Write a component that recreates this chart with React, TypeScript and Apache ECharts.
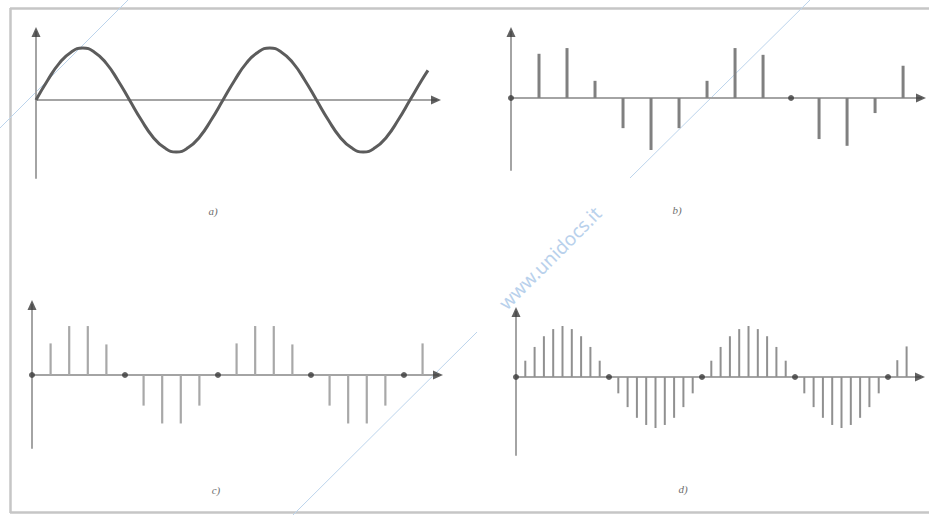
import React, { useEffect, useRef } from "react";
import * as echarts from "echarts";

// a) continuous signal, read every 1/16 of a period (x in periods, y in amplitude units)
const phaseA = [
  0, 0.0625, 0.125, 0.1875, 0.25, 0.3125, 0.375, 0.4375, 0.5, 0.5625, 0.625, 0.6875,
  0.75, 0.8125, 0.875, 0.9375, 1, 1.0625, 1.125, 1.1875, 1.25, 1.3125, 1.375, 1.4375,
  1.5, 1.5625, 1.625, 1.6875, 1.75, 1.8125, 1.875, 1.9375, 2, 2.0625, 2.096,
];
const waveA = [
  0, 0.38, 0.71, 0.92, 1, 0.92, 0.71, 0.38, 0, -0.38, -0.71, -0.92,
  -1, -0.92, -0.71, -0.38, 0, 0.38, 0.71, 0.92, 1, 0.92, 0.71, 0.38,
  0, -0.38, -0.71, -0.92, -1, -0.92, -0.71, -0.38, 0, 0.38, 0.57,
];

// b) coarse sampling (one value per sample index)
const samplesB = [0, 0.85, 0.96, 0.33, -0.58, -1.0, -0.58, 0.33, 0.96, 0.83, 0, -0.79, -0.92, -0.29, 0.62];

// c) ten samples per period
const samplesC = [
  0, 0.62, 0.96, 0.96, 0.6, 0, -0.6, -0.95, -0.95, -0.6, 0,
  0.62, 0.96, 0.96, 0.6, 0, -0.6, -0.95, -0.95, -0.6, 0, 0.62,
];

// d) twenty samples per period
const samplesD = [
  0, 0.32, 0.59, 0.8, 0.94, 1, 0.94, 0.8, 0.59, 0.32,
  0, -0.32, -0.59, -0.8, -0.94, -1, -0.94, -0.8, -0.59, -0.32,
  0, 0.32, 0.59, 0.8, 0.94, 1, 0.94, 0.8, 0.59, 0.32,
  0, -0.32, -0.59, -0.8, -0.94, -1, -0.94, -0.8, -0.59, -0.32,
  0, 0.33, 0.6,
];

const panelLabels = ["a)", "b)", "c)", "d)"];

// panel frames: grid box in px and axis extents
const panels = [
  { left: 36, top: 32, width: 400, height: 146, xMax: 2.139, yMin: -1.5, yMax: 1.308 },
  { left: 511, top: 32, width: 410, height: 138, xMax: 14.64, yMin: -1.385, yMax: 1.269 },
  { left: 32, top: 305, width: 406, height: 143, xMax: 21.83, yMin: -1.431, yMax: 1.373 },
  { left: 516, top: 312, width: 404, height: 143, xMax: 43.44, yMin: -1.529, yMax: 1.275 },
];
const labelPos = [
  [213, 211],
  [677, 210],
  [216, 490],
  [683, 489],
];

const AXIS_COLOR = "#a4a4a4";
const ARROW_COLOR = "#3a3a3a";

function stemSeries(idx: number, values: number[], color: string, width: number) {
  const pts = values.map((v, i) => [i, v]);
  return [
    {
      type: "custom",
      xAxisIndex: idx,
      yAxisIndex: idx,
      clip: false,
      silent: true,
      data: pts.filter((p) => p[1] !== 0),
      renderItem: (_params: any, api: any) => {
        const x = api.value(0);
        const y = api.value(1);
        const p0 = api.coord([x, 0]);
        const p1 = api.coord([x, y]);
        return {
          type: "line",
          shape: { x1: p0[0], y1: p0[1], x2: p1[0], y2: p1[1] },
          style: { stroke: color, lineWidth: width },
        };
      },
    },
    {
      type: "scatter",
      xAxisIndex: idx,
      yAxisIndex: idx,
      clip: false,
      silent: true,
      symbol: "circle",
      symbolSize: 6,
      itemStyle: { color: ARROW_COLOR },
      data: pts.filter((p) => p[1] === 0),
      z: 4,
    },
  ];
}

function arrowSeries(idx: number) {
  const p = panels[idx];
  return {
    type: "scatter",
    xAxisIndex: idx,
    yAxisIndex: idx,
    clip: false,
    silent: true,
    symbol: "triangle",
    symbolSize: [9, 10],
    itemStyle: { color: ARROW_COLOR },
    z: 5,
    data: [
      { value: [0, p.yMax], symbolRotate: 0 },
      { value: [p.xMax, 0], symbolRotate: -90 },
    ],
  };
}

export default function App() {
  const ref = useRef<HTMLDivElement>(null);

  useEffect(() => {
    if (!ref.current) return;
    const chart = echarts.init(ref.current, null, { renderer: "svg" });

    const axisCommon = {
      axisTick: { show: false },
      axisLabel: { show: false },
      splitLine: { show: false },
    };

    const option: any = {
      animation: false,
      backgroundColor: "#ffffff",
      grid: panels.map((p) => ({
        left: p.left,
        top: p.top,
        width: p.width,
        height: p.height,
        containLabel: false,
      })),
      xAxis: panels.map((p, i) => ({
        type: "value",
        gridIndex: i,
        min: 0,
        max: p.xMax,
        ...axisCommon,
        axisLine: { show: true, onZero: true, lineStyle: { color: AXIS_COLOR, width: 2 } },
      })),
      yAxis: panels.map((p, i) => ({
        type: "value",
        gridIndex: i,
        min: p.yMin,
        max: p.yMax,
        ...axisCommon,
        axisLine: { show: true, onZero: true, lineStyle: { color: AXIS_COLOR, width: 2 } },
      })),
      series: [
        {
          type: "line",
          xAxisIndex: 0,
          yAxisIndex: 0,
          smooth: true,
          symbol: "none",
          silent: true,
          clip: false,
          lineStyle: { color: "#5c5c5c", width: 3 },
          data: phaseA.map((x, i) => [x, waveA[i]]),
          z: 3,
        },
        ...stemSeries(1, samplesB, "#808080", 3),
        ...stemSeries(2, samplesC, "#a8a8a8", 2.2),
        ...stemSeries(3, samplesD, "#909090", 2),
        arrowSeries(0),
        arrowSeries(1),
        arrowSeries(2),
        arrowSeries(3),
      ],
      graphic: [
        // frame
        { type: "line", shape: { x1: 10, y1: 8.5, x2: 929, y2: 8.5 }, style: { stroke: "#c6c6c6", lineWidth: 2.5 } },
        { type: "line", shape: { x1: 10.5, y1: 8, x2: 10.5, y2: 513 }, style: { stroke: "#c6c6c6", lineWidth: 2.5 } },
        { type: "line", shape: { x1: 10, y1: 512.5, x2: 929, y2: 512.5 }, style: { stroke: "#c6c6c6", lineWidth: 2.5 } },
        // watermark strokes
        { type: "line", shape: { x1: 0, y1: 128, x2: 128, y2: 0 }, style: { stroke: "#bcd4ec", lineWidth: 1 } },
        { type: "line", shape: { x1: 630, y1: 178, x2: 810, y2: 0 }, style: { stroke: "#bcd4ec", lineWidth: 1 } },
        { type: "line", shape: { x1: 293, y1: 515, x2: 477, y2: 332 }, style: { stroke: "#bcd4ec", lineWidth: 1 } },
        {
          type: "text",
          x: 550,
          y: 258,
          rotation: Math.PI / 4,
          style: {
            text: "www.unidocs.it",
            fill: "#b9d1ec",
            font: '19px "Noto Sans"',
            align: "center",
            verticalAlign: "middle",
          },
        },
        ...panelLabels.map((t, i) => ({
          type: "text",
          x: labelPos[i][0],
          y: labelPos[i][1],
          style: {
            text: t,
            fill: "#6e6e6e",
            font: 'italic 11px "Liberation Serif"',
            align: "center",
            verticalAlign: "middle",
          },
        })),
      ],
    };

    chart.setOption(option);
    return () => chart.dispose();
  }, []);

  return (
    <div
      ref={ref}
      style={{ position: "fixed", left: 0, top: 0, width: 929, height: 515, background: "#fff" }}
    />
  );
}
